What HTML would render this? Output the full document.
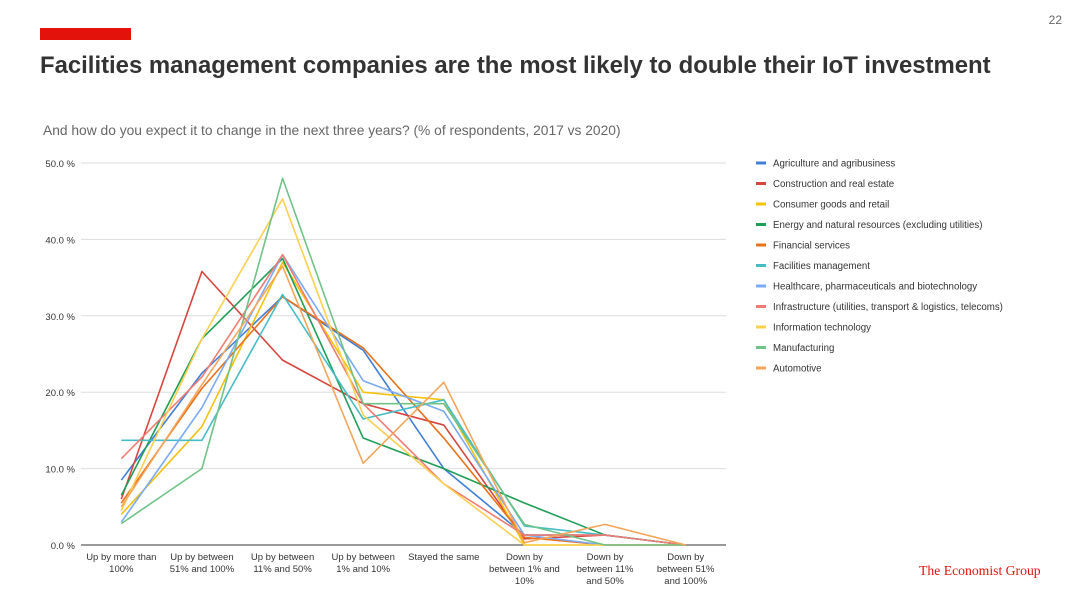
<!DOCTYPE html>
<html><head><meta charset="utf-8"><style>
html,body{margin:0;padding:0;background:#fff;}
body{width:1080px;height:607px;position:relative;overflow:hidden;font-family:"Liberation Sans",Arial,sans-serif;}
#bar{position:absolute;left:40px;top:28px;width:91px;height:12px;background:#e3120b;}
#title{position:absolute;left:40px;top:52px;font-size:23.9px;font-weight:bold;color:#333;white-space:nowrap;}
#sub{position:absolute;left:43px;top:123px;font-size:13.8px;color:#666;}
#pg{position:absolute;right:18px;top:13px;font-size:12px;color:#666;}
#logo{position:absolute;left:919px;top:563px;font-family:"Liberation Serif",serif;font-size:13.7px;color:#e3120b;}
svg{position:absolute;left:0;top:0;}
</style></head><body>
<div id="bar"></div>
<div id="title">Facilities management companies are the most likely to double their IoT investment</div>
<div id="sub">And how do you expect it to change in the next three years? (% of respondents, 2017 vs 2020)</div>
<div id="pg">22</div>
<div id="logo">The Economist Group</div>
<svg id="chart" width="1080" height="607"></svg>
<script>
const categories=[["Up by more than","100%"],["Up by between","51% and 100%"],["Up by between","11% and 50%"],["Up by between","1% and 10%"],["Stayed the same"],["Down by","between 1% and","10%"],["Down by","between 11%","and 50%"],["Down by","between 51%","and 100%"]];
const yTicks=[0,10,20,30,40,50];
const seriesNames=["Agriculture and agribusiness","Construction and real estate","Consumer goods and retail","Energy and natural resources (excluding utilities)","Financial services","Facilities management","Healthcare, pharmaceuticals and biotechnology","Infrastructure (utilities, transport & logistics, telecoms)","Information technology","Manufacturing","Automotive"];
const seriesColors=["#3f7fd8","#d6453d","#f4c20d","#1e9e57","#e8711a","#46bdc6","#7baaf7","#f07b72","#fcd04f","#71c287","#f5a55a"];
const agriculture=[8.5,22.5,32.5,25.5,10,1.3,1.3,0];
const construction=[6,35.8,24.2,18.5,15.7,0.8,1.3,0];
const consumer=[4,15.5,37,20,19,0,0,0];
const energy=[6.5,27,37.5,14,10,5.5,1.3,0];
const financial=[5.5,20.5,32.5,25.8,14,1,0,0];
const facilities=[13.7,13.7,32.8,16.5,19,2.5,1.3,0];
const healthcare=[3,18,38,21.5,17.5,1.3,0,0];
const infrastructure=[11.3,22,38,18.5,8,1.3,1.3,0];
const infotech=[4.5,27,45.3,17,8,0,0,0];
const manufacturing=[2.8,10,48,18.5,18.5,2.7,0,0];
const automotive=[5,21,36.5,10.7,21.3,0.3,2.7,0];
const seriesValues=[agriculture,construction,consumer,energy,financial,facilities,healthcare,infrastructure,infotech,manufacturing,automotive];

const svg=document.getElementById('chart');
const NS='http://www.w3.org/2000/svg';
const x0=81,x1=726,y0=545,y1=163;
const xs=i=>x0+(x1-x0)/categories.length*(i+0.5);
const ys=v=>y0-(v/50)*(y0-y1);
function mk(t,a,p){const e=document.createElementNS(NS,t);for(const k in a)e.setAttribute(k,a[k]);(p||svg).appendChild(e);return e;}
yTicks.forEach(t=>{
  const g=mk('line',{x1:x0,x2:x1,y1:ys(t),y2:ys(t),stroke:t===0?'#333':'#ddd','stroke-width':1});
  
  
  const l=mk('text',{x:75,y:ys(t)+4,'text-anchor':'end','font-size':9.5,fill:'#333'});
  l.textContent=t.toFixed(1)+' %';
  
  
});
categories.forEach((c,i)=>{
  const t=mk('text',{x:xs(i),y:560,'text-anchor':'middle','font-size':9.5,fill:'#333'});
  
  
  c.forEach((ln,j)=>{const s=mk('tspan',{x:xs(i),dy:j?12:0},t);s.textContent=ln;});
});
seriesValues.forEach((vals,si)=>{
  const p=mk('polyline',{points:vals.map((v,i)=>xs(i)+','+ys(v)).join(' '),fill:'none',stroke:seriesColors[si],'stroke-width':1.6,'stroke-linejoin':'round'});
  
  
  const ly=163+si*20.5;
  const sw=mk('line',{x1:756,x2:766,y1:ly,y2:ly,stroke:seriesColors[si],'stroke-width':3});
  
  
  const lt=mk('text',{x:773,y:ly+3.5,'font-size':9.7,fill:'#333'});
  lt.textContent=seriesNames[si];
  
  
});
</script>
</body></html>
